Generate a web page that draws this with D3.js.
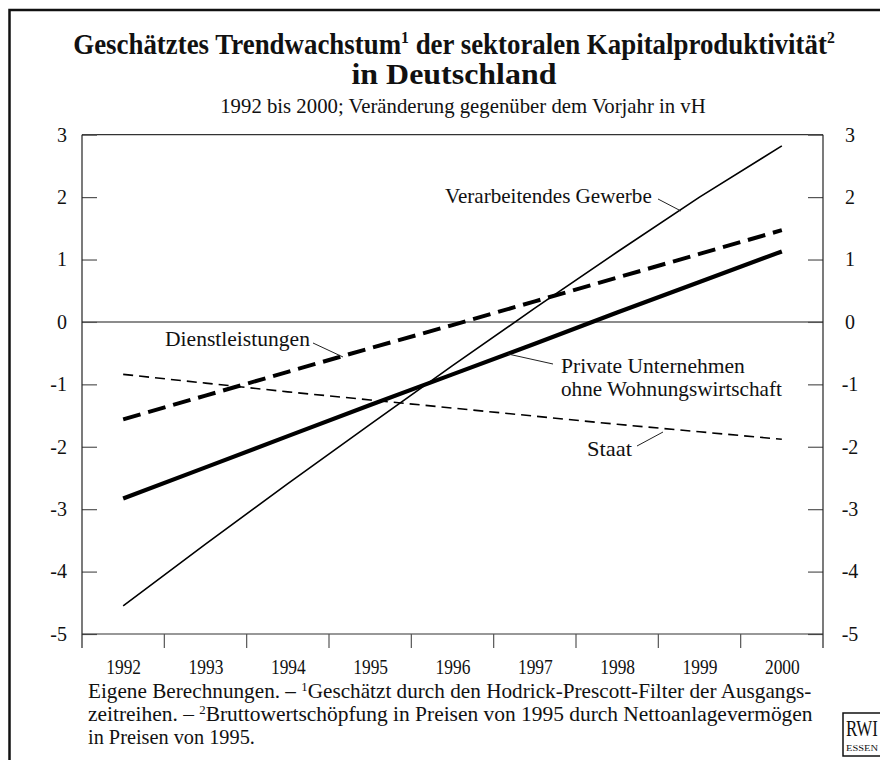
<!DOCTYPE html>
<html>
<head>
<meta charset="utf-8">
<script src="https://cdn.jsdelivr.net/npm/d3@7"></script>
<style>
  body { margin: 0; background: #fff; }
  text { font-family: "Liberation Serif", "Times New Roman", serif; fill: #111; }
</style>
</head>
<body>
<svg id="chart" width="880" height="760"></svg>
<script>
// Data (vH change vs. previous year)
const years = [1992, 1993, 1994, 1995, 1996, 1997, 1998, 1999, 2000];
const verarbeitendes = [-4.55, -3.56, -2.59, -1.64, -0.70, 0.22, 1.12, 2.00, 2.82];
const privateUnternehmen = [-2.83, -2.33, -1.83, -1.33, -0.84, -0.35, 0.15, 0.64, 1.13];
const dienstleistungen = [-1.56, -1.18, -0.80, -0.42, -0.05, 0.33, 0.71, 1.09, 1.47];
const staat = [-0.84, -0.98, -1.12, -1.25, -1.38, -1.51, -1.64, -1.76, -1.88];
const yTicks = [-5, -4, -3, -2, -1, 0, 1, 2, 3];

const svgWidth = 880, svgHeight = 760;
const plot = { left: 82, right: 823, top: 134.7, bottom: 634 };

const svg = d3.select("#chart");

// squeeze a text horizontally (around its anchor x) to a given width
const fit = (sel, w) => {
  const cur = sel.node().getComputedTextLength();
  const ax = +sel.attr("x") || 0;
  const s = w / cur;
  sel.attr("transform", "translate(" + ax + ",0) scale(" + s + ",1) translate(" + (-ax) + ",0)");
};

// outer frame (left and top edges visible)
svg.append("path")
  .attr("d", "M9.5,760 L9.5,10 L880,10")
  .attr("fill", "none")
  .attr("stroke", "#111")
  .attr("stroke-width", 2.5);

// title
let t1 = svg.append("text")
  .attr("x", 454).attr("y", 54)
  .attr("text-anchor", "middle")
  .style("font-size", "29px").style("font-weight", "bold");
t1.append("tspan").text("Geschätztes Trendwachstum");
t1.append("tspan").attr("dy", -11).style("font-size", "17px").text("1");
t1.append("tspan").attr("dy", 11).text(" der sektoralen Kapitalproduktivität");
t1.append("tspan").attr("dy", -11).style("font-size", "17px").text("2");
fit(t1, 762);

let t2 = svg.append("text")
  .attr("x", 454).attr("y", 84)
  .attr("text-anchor", "middle")
  .style("font-size", "29px").style("font-weight", "bold")
  .text("in Deutschland");
fit(t2, 205);

let sub = svg.append("text")
  .attr("x", 463).attr("y", 113)
  .attr("text-anchor", "middle")
  .style("font-size", "20px")
  .text("1992 bis 2000; Veränderung gegenüber dem Vorjahr in vH");
fit(sub, 486);

// scales
const x = d3.scalePoint().domain(years).range([plot.left, plot.right]).padding(0.5);
const xb = d3.scaleBand().domain(years).range([plot.left, plot.right]);
const y = d3.scaleLinear().domain([-5, 3]).range([plot.bottom, plot.top]);

const g = svg.append("g");

// plot frame top
g.append("line")
  .attr("x1", plot.left).attr("x2", plot.right)
  .attr("y1", plot.top).attr("y2", plot.top)
  .attr("stroke", "#333").attr("stroke-width", 1.2);

// zero line
g.append("line")
  .attr("x1", plot.left).attr("x2", plot.right)
  .attr("y1", y(0)).attr("y2", y(0))
  .attr("stroke", "#666").attr("stroke-width", 1.5);

// left axis
let yl = g.append("g")
  .attr("transform", "translate(" + plot.left + ",0)")
  .call(d3.axisLeft(y).tickValues(yTicks).tickFormat(d => String(d))
    .tickSizeInner(-15).tickSizeOuter(0).tickPadding(15));
// right axis
let yr = g.append("g")
  .attr("transform", "translate(" + plot.right + ",0)")
  .call(d3.axisRight(y).tickValues(yTicks).tickFormat(d => String(d))
    .tickSizeInner(-15).tickSizeOuter(0).tickPadding(27));
yr.selectAll("text").attr("text-anchor", "middle");

[yl, yr].forEach(a => {
  a.select(".domain").remove();
  a.selectAll(".tick line").attr("stroke", "#555").attr("stroke-width", 1.2);
  a.selectAll("text")
    .style("font-family", "'Liberation Serif', serif")
    .style("font-size", "20px").attr("fill", "#111");
});

// vertical axis lines (extend below the bottom axis)
[plot.left, plot.right].forEach(px => {
  g.append("line")
    .attr("x1", px).attr("x2", px)
    .attr("y1", plot.top).attr("y2", plot.bottom + 14)
    .attr("stroke", "#222").attr("stroke-width", 1.2);
});

// bottom axis
g.append("line")
  .attr("x1", plot.left).attr("x2", plot.right)
  .attr("y1", plot.bottom).attr("y2", plot.bottom)
  .attr("stroke", "#333").attr("stroke-width", 1.2);

g.selectAll(".xtick")
  .data(years.slice(1))
  .enter().append("line")
  .attr("class", "xtick")
  .attr("x1", d => xb(d)).attr("x2", d => xb(d))
  .attr("y1", plot.bottom).attr("y2", plot.bottom + 14)
  .attr("stroke", "#555").attr("stroke-width", 1.2);

let xa = g.append("g")
  .attr("transform", "translate(0," + plot.bottom + ")")
  .call(d3.axisBottom(x).tickSize(0).tickPadding(25));
xa.select(".domain").remove();
xa.selectAll("text")
  .style("font-family", "'Liberation Serif', serif")
  .style("font-size", "21px").attr("fill", "#111")
  .attr("transform", "scale(0.83,1)");

// series
const series = [
  { values: staat, width: 1.6, dash: "10,6" },
  { values: dienstleistungen, width: 4, dash: "18,8" },
  { values: privateUnternehmen, width: 4.2, dash: null },
  { values: verarbeitendes, width: 1.6, dash: null }
];

const line = d3.line()
  .x((d, i) => x(years[i]))
  .y(d => y(d));

series.forEach(s => {
  g.append("path")
    .datum(s.values)
    .attr("fill", "none")
    .attr("stroke", "#000")
    .attr("stroke-width", s.width)
    .attr("stroke-dasharray", s.dash)
    .attr("d", line);
});

// annotations: label text and leader line
const annotations = [
  { lines: ["Verarbeitendes Gewerbe"], x: 445, y: 203, w: [207], lead: [[658, 199], [681, 211]] },
  { lines: ["Dienstleistungen"], x: 165, y: 346, w: [145], lead: [[313, 343], [343, 357]] },
  { lines: ["Private Unternehmen", "ohne Wohnungswirtschaft"], x: 561, y: 373, w: [184, 221], lead: [[508, 354], [553, 364]] },
  { lines: ["Staat"], x: 587, y: 456, w: [45], lead: [[637, 446], [663, 432]] }
];

annotations.forEach(a => {
  a.lines.forEach((txt, i) => {
    let t = g.append("text")
      .attr("x", a.x).attr("y", a.y + i * 23)
      .style("font-size", "20px")
      .text(txt);
    fit(t, a.w[i]);
  });
  g.append("path")
    .attr("d", d3.line()(a.lead))
    .attr("stroke", "#222").attr("stroke-width", 1);
});

// footnote
const notes = [
  { parts: ["Eigene Berechnungen. – ", "1", "Geschätzt durch den Hodrick-Prescott-Filter der Ausgangs-"], w: 724 },
  { parts: ["zeitreihen. – ", "2", "Bruttowertschöpfung in Preisen von 1995 durch Nettoanlagevermögen"], w: 725 },
  { parts: ["in Preisen von 1995."], w: 167 }
];
notes.forEach((n, i) => {
  let t = svg.append("text")
    .attr("x", 88).attr("y", 698 + i * 23)
    .style("font-size", "20px");
  n.parts.forEach((p, j) => {
    if (j == 1) {
      t.append("tspan").attr("dy", -7).style("font-size", "12px").text(p);
    } else if (j == 2) {
      t.append("tspan").attr("dy", 7).text(p);
    } else {
      t.append("tspan").text(p);
    }
  });
  fit(t, n.w);
});

// RWI logo (cut by the right edge)
svg.append("rect")
  .attr("x", 843).attr("y", 713)
  .attr("width", 60).attr("height", 43)
  .attr("fill", "none").attr("stroke", "#111").attr("stroke-width", 1.5);
let rwi = svg.append("text")
  .attr("x", 846).attr("y", 736)
  .style("font-size", "23px")
  .text("RWI");
fit(rwi, 32);
let essen = svg.append("text")
  .attr("x", 846).attr("y", 751)
  .style("font-size", "9px")
  .text("ESSEN");
fit(essen, 32);
</script>
</body>
</html>
